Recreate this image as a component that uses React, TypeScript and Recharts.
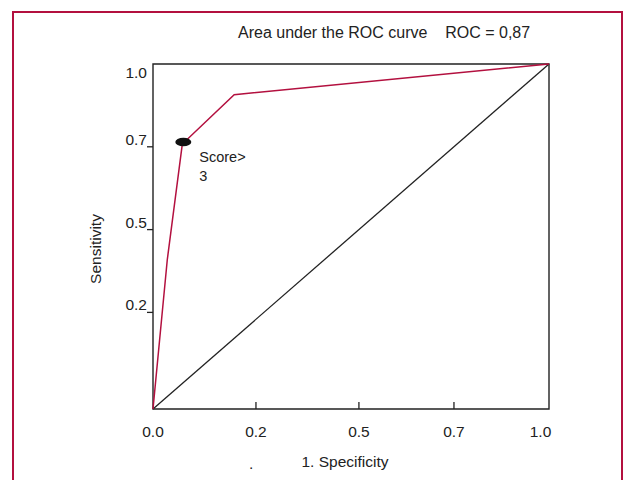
import { LineChart, Line, XAxis, YAxis, ReferenceArea, ReferenceDot } from 'recharts';

// ROC curve (1 - specificity vs sensitivity)
const rocFpr = [0, 0.036, 0.074, 0.205, 1];
const rocTpr = [0, 0.432, 0.768, 0.911, 1];

// chance line
const chanceFpr = [0, 1];
const chanceTpr = [0, 1];

// chosen cut-off
const cutoff = { x: 0.074, y: 0.768, label: ['Score>', '3'] };

const xTicks = [0, 0.26, 0.52, 0.76, 1];
const xTickLabels = ['0.0', '0.2', '0.5', '0.7', '1.0'];
const yTicks = [0.28, 0.52, 0.76, 1];
const yTickLabels = ['0.2', '0.5', '0.7', '1.0'];

const TITLE = 'Area under the ROC curve    ROC = 0,87';

const RED = '#b3103f';
const INK = '#222';
const TEXT = '#222';

const rocData = rocFpr.map((x, i) => ({ x, y: rocTpr[i] }));
const chanceData = chanceFpr.map((x, i) => ({ x, y: chanceTpr[i] }));

function YTick({ x, y, payload }: any) {
  const label = yTickLabels[yTicks.indexOf(payload.value)];
  const isTop = payload.value === 1;
  return (
    <g>
      {!isTop && <line x1={x - 6} x2={x} y1={y} y2={y} stroke={INK} strokeWidth={1.3} />}
      <text x={x - 6} y={isTop ? y + 14 : y - 2} textAnchor="end" fontSize={15.5} fill={TEXT}>
        {label}
      </text>
    </g>
  );
}

function XTick({ x, y, payload }: any) {
  const label = xTickLabels[xTicks.indexOf(payload.value)];
  const edge = payload.value === 0 || payload.value === 1;
  return (
    <g>
      {!edge && <line x1={x} x2={x} y1={y - 7} y2={y} stroke={INK} strokeWidth={1.3} />}
      <text x={payload.value === 1 ? x - 8.5 : x} y={y + 27.5} textAnchor="middle" fontSize={15.5} fill={TEXT}>
        {label}
      </text>
    </g>
  );
}

function CutoffMark({ cx, cy }: any) {
  return (
    <g>
      <ellipse cx={cx + 1} cy={cy - 2} rx={8} ry={4.3} fill="#111" />
      <text x={cx + 17} y={cy + 18} fontSize={14.5} fill={TEXT}>{cutoff.label[0]}</text>
      <text x={cx + 17} y={cy + 37} fontSize={14.5} fill={TEXT}>{cutoff.label[1]}</text>
    </g>
  );
}

export default function App() {
  return (
    <div
      style={{
        position: 'absolute',
        left: 0,
        top: 0,
        width: 631,
        height: 480,
        background: '#fff',
        overflow: 'hidden',
        fontFamily: '"Liberation Sans", Arial, sans-serif',
      }}
    >
      <div
        style={{
          position: 'absolute',
          left: 12,
          top: 11,
          width: 611,
          height: 500,
          border: `2.5px solid ${RED}`,
          boxSizing: 'border-box',
          pointerEvents: 'none',
        }}
      />
      <div
        style={{
          position: 'absolute',
          left: 238,
          top: 24.5,
          fontSize: 16,
          lineHeight: 1,
          color: TEXT,
          whiteSpace: 'pre',
        }}
      >
        {TITLE}
      </div>
      <div style={{ position: 'absolute', left: 0, top: 0 }}>
        <LineChart width={631} height={480} margin={{ top: 64, right: 82, bottom: 0, left: 0 }}>
          <XAxis
            type="number"
            dataKey="x"
            domain={[0, 1]}
            ticks={xTicks}
            interval={0}
            axisLine={false}
            tickLine={false}
            tickSize={0}
            tickMargin={0}
            height={71}
            tick={<XTick />}
            label={{
              content: ({ viewBox }: any) => (
                <g>
                  <text x={viewBox.x + viewBox.width / 2 - 6} y={viewBox.y + 58} textAnchor="middle" fontSize={15.5} fill={TEXT}>
                    1. Specificity
                  </text>
                  <text x={viewBox.x + 96} y={viewBox.y + 60} fontSize={15.5} fill={TEXT}>.</text>
                </g>
              ),
            }}
          />
          <YAxis
            type="number"
            domain={[0, 1]}
            ticks={yTicks}
            interval={0}
            axisLine={false}
            tickLine={false}
            tickSize={0}
            tickMargin={0}
            width={153}
            tick={<YTick />}
            label={{
              content: ({ viewBox }: any) => {
                const lx = viewBox.x + 100.5;
                const ly = viewBox.y + viewBox.height / 2 + 12.5;
                return (
                  <text x={lx} y={ly} transform={`rotate(-90, ${lx}, ${ly})`} textAnchor="middle" fontSize={15.5} fill={TEXT}>
                    Sensitivity
                  </text>
                );
              },
            }}
          />
          <ReferenceArea x1={0} x2={1} y1={0} y2={1} fill="none" stroke={INK} strokeWidth={1.4} />
          <Line
            data={chanceData}
            dataKey="y"
            type="linear"
            stroke={INK}
            strokeWidth={1.3}
            dot={false}
            isAnimationActive={false}
          />
          <Line
            data={rocData}
            dataKey="y"
            type="linear"
            stroke={RED}
            strokeWidth={1.5}
            dot={false}
            isAnimationActive={false}
          />
          <ReferenceDot x={cutoff.x} y={cutoff.y} shape={<CutoffMark />} />
        </LineChart>
      </div>
    </div>
  );
}
